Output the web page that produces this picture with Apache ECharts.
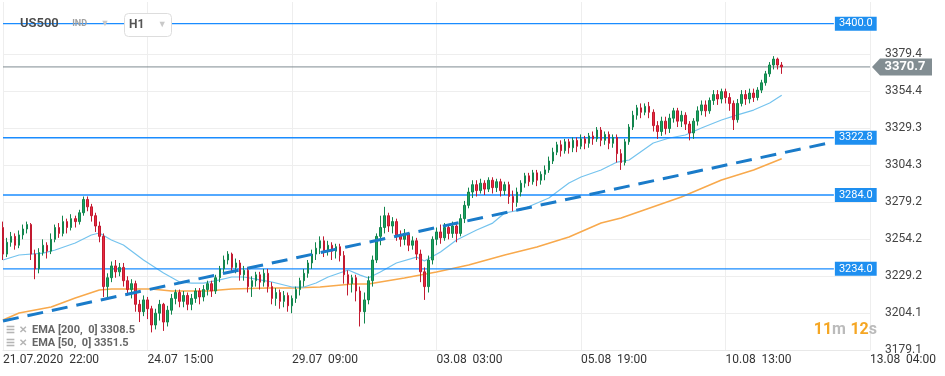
<!DOCTYPE html>
<html>
<head>
<meta charset="utf-8">
<script src="https://cdn.jsdelivr.net/npm/echarts@6/dist/echarts.min.js"></script>
<style>
  html, body { margin: 0; padding: 0; background: #fff; }
  #chart { width: 945px; height: 376px; }
</style>
</head>
<body>
<div id="chart"></div>
<script>
// H1 candles: [open, close, low, high]
const candles = [
  [3262,3244,3240,3266],[3244,3252,3242,3255],[3252,3256,3249,3259],[3256,3250,3247,3258],[3250,3257,3248,3260],
  [3257,3261,3254,3264],[3261,3264,3258,3266],[3264,3244,3240,3265],[3244,3234,3227,3247],[3234,3245,3231,3248],
  [3245,3250,3243,3254],[3250,3246,3241,3252],[3246,3254,3244,3258],[3254,3262,3252,3264],[3262,3258,3255,3265],
  [3258,3266,3256,3270],[3266,3262,3258,3268],[3262,3268,3260,3271],[3268,3266,3262,3270],[3266,3272,3264,3274],
  [3272,3281,3270,3283],[3281,3276,3273,3283],[3276,3270,3266,3278],[3270,3263,3259,3272],[3263,3256,3252,3266],
  [3256,3222,3215,3258],[3222,3228,3213,3231],[3228,3236,3225,3239],[3236,3232,3228,3240],[3232,3235,3229,3238],
  [3235,3226,3222,3238],[3226,3220,3216,3229],[3220,3224,3214,3227],[3224,3210,3205,3226],[3210,3205,3198,3213],
  [3205,3213,3202,3216],[3213,3207,3200,3215],[3207,3196,3191,3209],[3196,3204,3193,3207],[3204,3210,3199,3213],
  [3210,3198,3192,3211],[3198,3206,3195,3209],[3206,3214,3203,3217],[3214,3218,3210,3220],[3218,3212,3208,3220],
  [3212,3216,3208,3219],[3216,3210,3206,3218],[3210,3214,3206,3217],[3214,3219,3211,3221],[3219,3215,3210,3221],
  [3215,3220,3212,3223],[3220,3224,3216,3226],[3224,3219,3215,3226],[3219,3228,3217,3230],[3228,3234,3225,3236],
  [3234,3240,3231,3243],[3240,3244,3237,3246],[3244,3235,3232,3245],[3235,3238,3231,3241],[3238,3230,3226,3240],
  [3230,3233,3226,3236],[3233,3222,3218,3235],[3222,3226,3215,3229],[3226,3230,3222,3232],[3230,3225,3220,3232],
  [3225,3231,3222,3234],[3231,3222,3218,3234],[3222,3214,3210,3225],[3214,3218,3209,3221],[3218,3212,3207,3220],
  [3212,3216,3208,3219],[3216,3209,3205,3218],[3209,3214,3204,3216],[3214,3220,3211,3222],[3220,3226,3216,3228],
  [3226,3231,3222,3234],[3231,3238,3228,3240],[3238,3244,3234,3247],[3244,3248,3240,3252],[3248,3253,3244,3256],
  [3253,3246,3242,3256],[3246,3250,3243,3253],[3250,3246,3240,3252],[3246,3249,3241,3251],[3249,3243,3239,3251],
  [3243,3230,3224,3246],[3230,3224,3216,3233],[3224,3228,3218,3230],[3228,3219,3212,3230],[3219,3205,3195,3222],
  [3205,3213,3197,3218],[3213,3226,3210,3229],[3226,3240,3222,3243],[3240,3256,3238,3258],[3256,3262,3250,3270],
  [3262,3270,3258,3276],[3270,3263,3259,3272],[3263,3266,3258,3269],[3266,3257,3253,3268],[3257,3254,3249,3260],
  [3254,3258,3250,3261],[3258,3250,3246,3259],[3250,3253,3247,3256],[3253,3244,3240,3255],[3244,3232,3225,3247],
  [3232,3222,3213,3235],[3222,3240,3218,3243],[3240,3254,3237,3256],[3254,3259,3250,3262],[3259,3255,3251,3264],
  [3255,3262,3253,3265],[3262,3258,3254,3264],[3258,3263,3255,3266],[3263,3258,3252,3265],[3258,3268,3256,3271],
  [3268,3277,3265,3280],[3277,3286,3275,3289],[3286,3291,3282,3294],[3291,3287,3283,3294],[3287,3292,3285,3295],
  [3292,3288,3284,3294],[3288,3294,3286,3296],[3294,3289,3285,3296],[3289,3293,3286,3295],[3293,3287,3283,3295],
  [3287,3291,3284,3293],[3291,3283,3278,3293],[3283,3279,3273,3287],[3279,3286,3276,3289],[3286,3292,3283,3294],
  [3292,3297,3289,3299],[3297,3293,3290,3299],[3293,3299,3291,3301],[3299,3294,3290,3301],[3294,3298,3291,3300],
  [3298,3301,3294,3304],[3301,3307,3299,3310],[3307,3313,3305,3316],[3313,3318,3311,3320],[3318,3314,3310,3321],
  [3314,3320,3312,3322],[3320,3316,3312,3322],[3316,3321,3313,3323],[3321,3317,3313,3323],[3317,3322,3315,3325],
  [3322,3319,3315,3324],[3319,3324,3316,3326],[3324,3322,3318,3327],[3322,3328,3320,3330],[3328,3321,3317,3330],
  [3321,3325,3318,3327],[3325,3319,3315,3327],[3319,3323,3316,3325],[3323,3312,3306,3325],[3312,3306,3301,3315],
  [3306,3320,3304,3322],[3320,3330,3318,3332],[3330,3338,3328,3341],[3338,3343,3335,3345],[3343,3340,3336,3346],
  [3340,3344,3338,3346],[3344,3340,3336,3347],[3340,3331,3327,3342],[3331,3327,3322,3334],[3327,3334,3324,3337],
  [3334,3329,3325,3337],[3329,3336,3326,3339],[3336,3341,3333,3343],[3341,3334,3330,3343],[3334,3338,3330,3341],
  [3338,3332,3328,3340],[3332,3326,3321,3334],[3326,3334,3322,3336],[3334,3341,3331,3344],[3341,3345,3338,3348],
  [3345,3341,3337,3348],[3341,3348,3339,3350],[3348,3352,3345,3355],[3352,3349,3345,3355],[3349,3354,3346,3356],
  [3354,3350,3346,3356],[3350,3346,3341,3353],[3346,3335,3328,3348],[3335,3346,3333,3349],[3346,3352,3344,3355],
  [3352,3349,3345,3355],[3349,3353,3346,3356],[3353,3350,3347,3356],[3350,3355,3348,3357],[3355,3360,3353,3362],
  [3360,3366,3358,3368],[3366,3372,3364,3374],[3372,3376,3369,3378],[3376,3372,3369,3377],[3372,3370.7,3366,3374]
];
const futureSlots = 22; // empty bars to the right of the last candle

// EMA lines, [bar index, value]
const ema200 = [
  [0,3199.4],[4,3204.1],[12,3208.2],[18,3214.3],[24,3219.7],[27,3220.4],[37,3220.4],[42,3219.0],
  [51,3219.0],[57,3220.4],[66,3221.0],[72,3221.0],[79,3221.7],[87,3223.8],[91,3223.8],[100,3227.8],
  [108,3231.9],[116,3236.6],[125,3243.4],[133,3248.8],[141,3255.6],[149,3265.0],[154,3268.4],
  [169,3282.6],[179,3294.2],[187,3300.9],[194,3308.5]
];
const ema50 = [
  [0,3240.0],[4,3243.4],[10,3244.7],[13,3246.8],[18,3251.5],[22,3256.9],[24,3258.3],[27,3253.5],
  [30,3250.2],[35,3240.0],[40,3231.2],[44,3225.1],[47,3224.4],[50,3224.4],[54,3226.5],[57,3228.5],
  [60,3228.5],[63,3227.1],[67,3225.1],[72,3221.7],[75,3221.7],[78,3224.4],[81,3228.5],[86,3233.2],
  [89,3229.8],[91,3227.8],[94,3231.9],[98,3238.0],[103,3242.0],[105,3239.3],[109,3245.4],[113,3253.5],
  [118,3260.3],[122,3265.0],[125,3271.8],[129,3273.9],[136,3282.0],[141,3292.1],[144,3296.2],
  [149,3300.9],[153,3306.3],[156,3307.7],[162,3319.2],[166,3322.6],[170,3324.6],[174,3329.4],
  [179,3334.8],[183,3338.2],[187,3341.5],[191,3346.3],[194,3351.5]
];
const trendLine = [[0, 3198.7], [207, 3320.0]];
const levels = [3400.0, 3322.8, 3284.0, 3234.0];
const lastPrice = 3370.7;

const xTickLabels = ['21.07.2020  22:00', '24.07  15:00', '29.07  09:00', '03.08  03:00', '05.08  19:00', '10.08  13:00', '13.08  04:00'];
const yTickLabels = ['3179.1', '3204.1', '3229.2', '3254.2', '3279.2', '3304.3', '3329.3', '3354.4', '3379.4'];
const yBottom = 3179.08;
const yStep = 25.04;
const labelEvery = 36;

const chart = echarts.init(document.getElementById('chart'));
const total = candles.length + futureSlots;
const categories = [];
for (let i = 0; i < total; i++) categories.push(String(i));

const gridH = 348;
const stepPx = 36.99;
const yTop = yBottom + gridH / stepPx * yStep;

const font = 'Roboto, "Noto Sans", sans-serif';
const levelBlue = '#1a8cff';

// horizontal support/resistance levels, one line series each, with a tag at the end
const levelSeries = levels.map(v => ({
  type: 'line', name: 'lvl' + v, yAxisIndex: 0, symbol: 'none', z: 2,
  data: [[0, v], [207, v]],
  color: levelBlue,
  lineStyle: { color: levelBlue, width: 1.4, opacity: 1 },
  endLabel: {
    show: true, distance: 1,
    formatter: v.toFixed(1),
    backgroundColor: '#1e8ff0', color: '#fff', fontSize: 11, fontFamily: font,
    padding: [2, 4, 1, 4]
  }
}));

const option = {
  animation: false,
  textStyle: { fontFamily: font },
  title: [
    {
      left: 20, top: 15, padding: 0,
      text: '{a|US500}   {b|IND}   {c|▼}',
      textStyle: {
        rich: {
          a: { fontSize: 13, fontWeight: 600, color: '#4a4a4a', fontFamily: font },
          b: { fontSize: 9, fontWeight: 'bold', color: '#a0a0a0', fontFamily: font },
          c: { fontSize: 9, color: '#c9c9c9' }
        }
      }
    },
    {
      left: 124, top: 13, padding: [3, 5, 3, 5],
      borderColor: '#dddddd', borderWidth: 1, borderRadius: 4, backgroundColor: '#fff',
      text: '{a|H1}   {c|▼}',
      textStyle: {
        rich: {
          a: { fontSize: 12, color: '#555', fontFamily: font },
          c: { fontSize: 9, color: '#c9c9c9' }
        }
      }
    },
    {
      left: 6, top: 324, padding: 0,
      text: '{i|☰} {x|✕} {t|EMA [200,  0] 3308.5}\n{i|☰} {x|✕} {t|EMA [50,  0] 3351.5}',
      textStyle: {
        lineHeight: 13,
        rich: {
          i: { fontSize: 10, color: '#b5b5b5', lineHeight: 13 },
          x: { fontSize: 10, color: '#b5b5b5', fontWeight: 'bold', lineHeight: 13 },
          t: { fontSize: 11, color: '#666', fontFamily: font, lineHeight: 13 }
        }
      }
    },
    {
      right: 68, top: 321, padding: 0,
      text: '{n|11}{u|m} {n|12}{u|s}',
      textStyle: {
        rich: {
          n: { fontSize: 16, color: '#f5a623', fontFamily: font },
          u: { fontSize: 16, color: '#bbbbbb', fontFamily: font }
        }
      }
    }
  ],
  grid: { left: 3, right: 75, top: 2, bottom: 26 },
  xAxis: {
    type: 'category',
    data: categories,
    boundaryGap: false,
    axisLine: { show: true, lineStyle: { color: '#e8e8e8' } },
    axisTick: { show: false },
    axisLabel: {
      interval: labelEvery - 1,
      align: 'left',
      margin: 4,
      fontSize: 12,
      color: '#333',
      fontFamily: font,
      formatter: (val, idx) => xTickLabels[idx / labelEvery] || ''
    },
    splitLine: { show: true, interval: labelEvery - 1, lineStyle: { color: '#eeeeee' } }
  },
  yAxis: [
    { type: 'value', show: false, min: yBottom, max: yTop, scale: true, splitLine: { show: false } },
    {
      type: 'value', position: 'right', min: 0, max: gridH / stepPx, interval: 1,
      axisLine: { show: false }, axisTick: { show: false },
      axisLabel: { margin: 15, fontSize: 12, color: '#444', fontFamily: font,
        formatter: v => yTickLabels[v] || '' },
      splitLine: {
        show: true, showMaxLine: false,
        lineStyle: { color: ['#eeeeee', '#eeeeee', '#eeeeee', '#eeeeee', '#eeeeee', '#eeeeee', '#eeeeee', '#eeeeee', '#eeeeee', 'rgba(0,0,0,0)', 'rgba(0,0,0,0)', 'rgba(0,0,0,0)'] }
      }
    }
  ],
  series: [
    {
      type: 'line', name: 'EMA200', yAxisIndex: 0, data: ema200, symbol: 'none',
      lineStyle: { color: '#f8a94c', width: 1.6 }, z: 2
    },
    {
      type: 'line', name: 'EMA50', yAxisIndex: 0, data: ema50, symbol: 'none',
      lineStyle: { color: '#74c3ee', width: 1.2 }, z: 2
    },
    {
      type: 'line', name: 'price', yAxisIndex: 0, symbol: 'none', z: 2,
      data: [[0, lastPrice], [216, lastPrice]],
      lineStyle: { color: '#7f8b91', width: 1 }
    },
    ...levelSeries,
    {
      type: 'candlestick', name: 'US500', yAxisIndex: 0, data: candles, barWidth: 2, z: 3,
      itemStyle: {
        color: '#1aa361', color0: '#ea2a40',
        borderColor: '#12854d', borderColor0: '#c21a30', borderWidth: 1
      },
      markPoint: {
        silent: true, animation: false,
        data: [{
          coord: [216, lastPrice],
          symbol: 'path://M0,8 L8,0 L60,0 L60,16 L8,16 Z',
          symbolSize: [60, 17],
          symbolOffset: [32, 0],
          itemStyle: { color: '#828d92' },
          label: {
            show: true, position: 'inside', offset: [3, 0],
            formatter: lastPrice.toFixed(1),
            color: '#fff', fontSize: 13, fontWeight: 'bold', fontFamily: font
          }
        }]
      }
    },
    {
      type: 'line', name: 'trend', yAxisIndex: 0, data: trendLine, symbol: 'none',
      lineStyle: { color: '#1a7bc9', width: 3, type: [16, 9] }, z: 4
    }
  ]
};
chart.setOption(option);
</script>
</body>
</html>
